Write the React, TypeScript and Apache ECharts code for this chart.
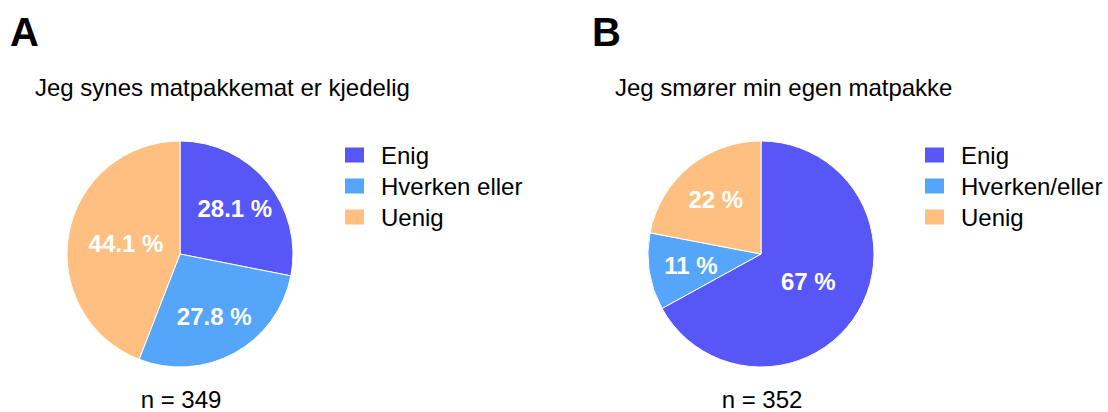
import React, { useEffect, useRef } from "react";
import * as echarts from "echarts";

const catsA = ["Enig", "Hverken eller", "Uenig"];
const valsA = [28.1, 27.8, 44.1];
const catsB = ["Enig", "Hverken/eller", "Uenig"];
const valsB = [67, 11, 22];
const colors = ["#5757F8", "#55A5FA", "#FFBF80"];
const titleA = "Jeg synes matpakkemat er kjedelig";
const titleB = "Jeg smører min egen matpakke";
const nA = "n = 349";
const nB = "n = 352";

const FONT = "'Liberation Sans', Arial, sans-serif";

function pieSeries(cats: string[], vals: number[], center: number[]) {
  const main = {
    type: "pie",
    center,
    radius: [0, 113],
    startAngle: 90,
    clockwise: true,
    silent: true,
    data: cats.map((c, i) => ({ name: c, value: vals[i], itemStyle: { color: colors[i] } })),
    itemStyle: { borderColor: "#fff", borderWidth: 1 },
    label: { show: false },
    labelLine: { show: false },
    emphasis: { disabled: true },
  };
  const mk = (radius: number[], big: boolean) => ({
    type: "pie",
    center,
    radius,
    startAngle: 90,
    clockwise: true,
    silent: true,
    z: 5,
    data: cats.map((c, i) => ({
      name: c,
      value: vals[i],
      itemStyle: { color: "transparent" },
      label: { show: big ? vals[i] > 40 : vals[i] <= 40 },
    })),
    itemStyle: { color: "transparent", borderWidth: 0 },
    label: {
      position: "inside",
      formatter: (p: any) => `${p.value} %`,
      color: "#fff",
      fontSize: 24,
      fontWeight: "bold",
      fontFamily: FONT,
    },
    labelLine: { show: false },
    emphasis: { disabled: true },
  });
  return [main, mk([0, 104], true), mk([23, 113], false)];
}

function legend(cats: string[], left: number) {
  return {
    left,
    top: 138,
    orient: "vertical",
    icon: "rect",
    itemWidth: 21,
    itemHeight: 17,
    itemGap: 7,
    selectedMode: false,
    data: cats,
    textStyle: {
      fontSize: 24,
      lineHeight: 24,
      color: "#000",
      fontFamily: FONT,
      padding: [0, 0, 0, 11],
    },
  };
}

function txt(text: string, x: number, y: number, size: number, bold: boolean, align = "left") {
  return {
    type: "text",
    x,
    y,
    style: {
      text,
      fontSize: size,
      fontWeight: bold ? "bold" : "normal",
      fontFamily: FONT,
      fill: "#000",
      textAlign: align,
      textVerticalAlign: "middle",
    },
  };
}

export default function App() {
  const ref = useRef<HTMLDivElement>(null);
  useEffect(() => {
    document.body.style.margin = "0";
    const chart = echarts.init(ref.current!, null, { renderer: "svg" });
    chart.setOption({
      animation: false,
      backgroundColor: "#fff",
      legend: [legend(catsA, 338), legend(catsB, 918)],
      series: [...pieSeries(catsA, valsA, [180, 254]), ...pieSeries(catsB, valsB, [761, 254])],
      graphic: [
        txt("A", 10, 32, 40, true),
        txt("B", 592, 32, 40, true),
        txt(titleA, 35, 87, 24, false),
        txt(titleB, 615, 87, 24, false),
        txt(nA, 181, 399, 24, false, "center"),
        txt(nB, 762, 399, 24, false, "center"),
      ],
    });
    return () => chart.dispose();
  }, []);
  return <div ref={ref} style={{ width: 1108, height: 412 }} />;
}
